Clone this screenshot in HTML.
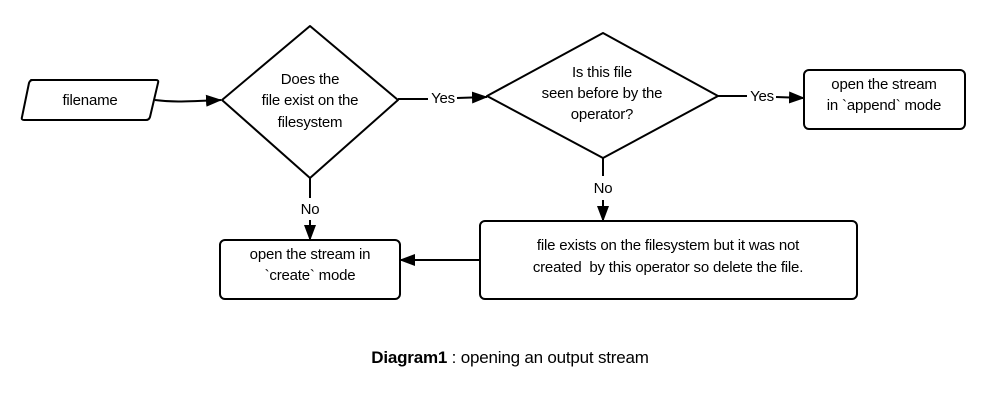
<!DOCTYPE html>
<html><head><meta charset="utf-8"><style>
html,body{margin:0;padding:0;background:#fff;width:1005px;height:420px;overflow:hidden}
text{font-family:"Liberation Sans",Arial,sans-serif;font-size:15px;fill:#000;letter-spacing:-0.2px}
</style></head><body>
<svg width="1005" height="420" viewBox="0 0 1005 420" xmlns="http://www.w3.org/2000/svg">
<defs><marker id="a" markerWidth="16" markerHeight="14" refX="15" refY="6" orient="auto" markerUnits="userSpaceOnUse"><path d="M0,0 L16,6 L0,12 z" fill="#000"/></marker></defs>
<g fill="none" stroke="#000" stroke-width="2" stroke-linejoin="round">
<path d="M31,80 L156,80 Q159,80 158,83 L150,117 Q149,120 146,120 L24,120 Q21,120 22,117 L29,83 Q30,80 33,80 Z"/>
<path d="M310,26 L398,100 L310,178 L222,100 Z"/>
<path d="M603,33 L718,96 L603,158 L487,96 Z"/>
<rect x="804" y="70" width="161" height="59" rx="5"/>
<rect x="220" y="240" width="180" height="59" rx="5"/>
<rect x="480" y="221" width="377" height="78" rx="5"/>
<path d="M155,100 C170,102 180,102 221,100" marker-end="url(#a)"/>
<path d="M398,99 L428,99"/><path d="M457,98 L487,97" marker-end="url(#a)"/>
<path d="M718,96 L747,96"/><path d="M776,97 L804,98" marker-end="url(#a)"/>
<path d="M310,178 L310,198"/><path d="M310,220 L310,240" marker-end="url(#a)"/>
<path d="M603,158 L603,176"/><path d="M603,200 L603,221" marker-end="url(#a)"/>
<path d="M480,260 L400,260" marker-end="url(#a)"/>
</g>
<text x="90" y="105" text-anchor="middle">filename</text>
<text x="310" y="84" text-anchor="middle">Does the</text>
<text x="310" y="105" text-anchor="middle">file exist on the</text>
<text x="310" y="127" text-anchor="middle">filesystem</text>
<text x="443" y="103" text-anchor="middle">Yes</text>
<text x="602" y="77" text-anchor="middle">Is this file</text>
<text x="602" y="98" text-anchor="middle">seen before by the</text>
<text x="602" y="119" text-anchor="middle">operator?</text>
<text x="762" y="101" text-anchor="middle">Yes</text>
<text x="884" y="89" text-anchor="middle">open the stream</text>
<text x="884" y="110" text-anchor="middle">in `append` mode</text>
<text x="310" y="214" text-anchor="middle">No</text>
<text x="603" y="193" text-anchor="middle">No</text>
<text x="310" y="259" text-anchor="middle">open the stream in</text>
<text x="310" y="280" text-anchor="middle">`create` mode</text>
<text x="668" y="250" text-anchor="middle">file exists on the filesystem but it was not</text>
<text x="668" y="272" text-anchor="middle" xml:space="preserve">created  by this operator so delete the file.</text>
<text x="510" y="363" text-anchor="middle" style="font-size:17px"><tspan font-weight="bold">Diagram1</tspan> : opening an output stream</text>
</svg>
</body></html>
